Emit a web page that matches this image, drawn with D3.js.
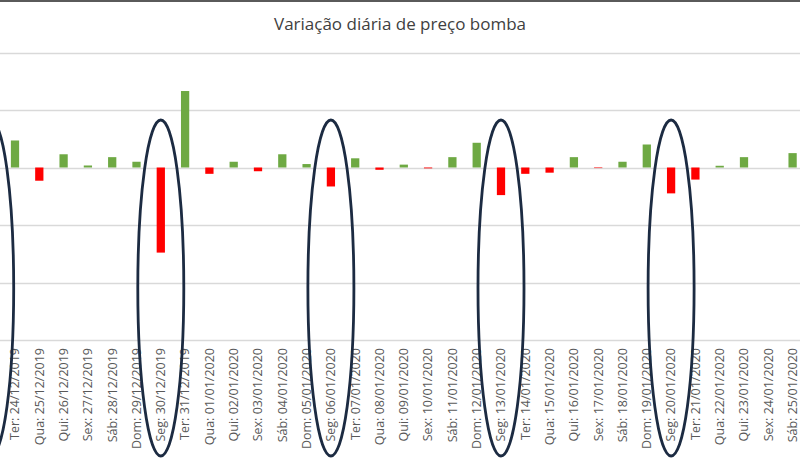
<!DOCTYPE html>
<html>
<head>
<meta charset="utf-8">
<script src="https://cdn.jsdelivr.net/npm/d3@7"></script>
<style>
  body { margin: 0; background: #fff; }
  svg { display: block; font-family: "Open Sans", sans-serif; }
</style>
</head>
<body>
<svg id="chart" width="800" height="460"></svg>
<script>
(function() {
  'use strict';

  // dias mostrados (o eixo começa na terça 24/12)
  var days = [
    'Ter: 24/12/2019', 'Qua: 25/12/2019', 'Qui: 26/12/2019', 'Sex: 27/12/2019',
    'Sáb: 28/12/2019', 'Dom: 29/12/2019', 'Seg: 30/12/2019', 'Ter: 31/12/2019',
    'Qua: 01/01/2020', 'Qui: 02/01/2020', 'Sex: 03/01/2020', 'Sáb: 04/01/2020',
    'Dom: 05/01/2020', 'Seg: 06/01/2020', 'Ter: 07/01/2020', 'Qua: 08/01/2020',
    'Qui: 09/01/2020', 'Sex: 10/01/2020', 'Sáb: 11/01/2020', 'Dom: 12/01/2020',
    'Seg: 13/01/2020', 'Ter: 14/01/2020', 'Qua: 15/01/2020', 'Qui: 16/01/2020',
    'Sex: 17/01/2020', 'Sáb: 18/01/2020', 'Dom: 19/01/2020', 'Seg: 20/01/2020',
    'Ter: 21/01/2020', 'Qua: 22/01/2020', 'Qui: 23/01/2020', 'Sex: 24/01/2020',
    'Sáb: 25/01/2020'
  ];

  // variação diária (estimada a partir da imagem)
  var variation = [
    0.47, -0.23, 0.23, 0.035, 0.18, 0.10, -1.48, 1.33,
    -0.11, 0.10, -0.065, 0.23, 0.06, -0.33, 0.16, -0.04,
    0.05, -0.015, 0.18, 0.43, -0.48, -0.11, -0.09, 0.18,
    -0.01, 0.10, 0.40, -0.45, -0.21, 0.03, 0.18, 0,
    0.25
  ];

  // segundas-feiras assinaladas (a primeira fica fora do gráfico, à esquerda)
  var mondays = ['23/12/2019', '30/12/2019', '06/01/2020', '13/01/2020', '20/01/2020'];

  var yTicks = [-3, -2, -1, 0, 1, 2];

  var svg = d3.select('#chart');

  var step = 24.3,
    x0 = 15 - step / 2;

  var x = d3.scaleBand()
    .domain(days)
    .range([x0, x0 + step * days.length])
    .paddingInner(0.66)
    .paddingOuter(0.33);

  var y = d3.scaleLinear()
    .domain([-3, 2])
    .range([340, 52.5]);

  // linha escura no topo (recorte da imagem)
  svg.append('rect')
    .attr('x', 0).attr('y', 0)
    .attr('width', 800).attr('height', 2)
    .attr('fill', '#5a5a5a');

  svg.append('text')
    .attr('x', 400)
    .attr('y', 30)
    .attr('text-anchor', 'middle')
    .attr('font-size', 17)
    .attr('fill', '#404040')
    .text('Variação diária de preço bomba');

  svg.append('g')
    .selectAll('line')
    .data(yTicks)
    .join('line')
    .attr('x1', 0).attr('x2', 800)
    .attr('y1', function(d) { return Math.round(y(d)) + 0.5; })
    .attr('y2', function(d) { return Math.round(y(d)) + 0.5; })
    .attr('stroke', '#d9d9d9')
    .attr('stroke-width', 1.5);

  svg.append('g')
    .selectAll('rect')
    .data(variation)
    .join('rect')
    .attr('x', function(d, i) { return x(days[i]); })
    .attr('width', x.bandwidth())
    .attr('y', function(d) { return y(Math.max(0, d)); })
    .attr('height', function(d) { return Math.abs(y(d) - y(0)); })
    .attr('fill', function(d) { return d >= 0 ? '#6ea943' : '#ff0000'; });

  var axis = svg.append('g')
    .attr('transform', 'translate(0,' + y(-3) + ')')
    .call(d3.axisBottom(x).tickSize(0).tickPadding(0));

  axis.select('.domain').remove();
  axis.selectAll('text')
    .attr('transform', 'rotate(-90)')
    .attr('text-anchor', 'end')
    .attr('x', -8)
    .attr('y', 0)
    .attr('dy', '0.35em')
    .attr('font-size', 12.5)
    .attr('font-family', '"Open Sans", sans-serif')
    .attr('fill', '#595959');

  // elipses à volta das segundas-feiras
  var parse = d3.timeParse('%d/%m/%Y'),
    first = parse(days[0].split(' ')[1]);

  svg.append('g')
    .selectAll('ellipse')
    .data(mondays)
    .join('ellipse')
    .attr('cx', function(d) {
      var k = d3.timeDay.count(first, parse(d));
      return x0 + step * (k + 0.5);
    })
    .attr('cy', 288)
    .attr('rx', 23)
    .attr('ry', 168)
    .attr('fill', 'none')
    .attr('stroke', '#1c2b42')
    .attr('stroke-width', 2.8);
})();
</script>
</body>
</html>
